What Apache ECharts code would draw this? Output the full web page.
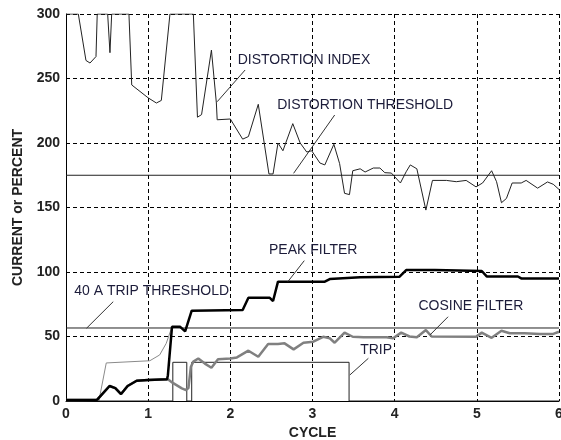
<!DOCTYPE html>
<html><head><meta charset="utf-8">
<script src="https://cdn.jsdelivr.net/npm/echarts@6/dist/echarts.min.js"></script>
<style>html,body{margin:0;padding:0;background:#fff;overflow:hidden}#c{width:561px;height:440px}</style>
</head><body><div id="c"></div>
<script>
// ---- data (cycle, value) ----
const xTicks = [0, 1, 2, 3, 4, 5, 6];
const yTicks = [0, 50, 100, 150, 200, 250, 300];
const distortionThreshold = 175;
const tripThreshold = 56.6;

const distortionIndex = [
  [0,300],[0.15,300],[0.243,264],[0.292,262],[0.365,267],[0.38,300],
  [0.507,300],[0.535,270],[0.556,300],
  [0.766,300],[0.80,245],[1.0,235],[1.10,231],[1.16,233],[1.265,300],
  [1.55,300],[1.60,220],[1.65,222],[1.77,272],[1.83,231],[1.84,218],[2.0,218.6],
  [2.15,203],[2.22,205],[2.34,230],[2.47,176],[2.52,176],[2.58,200],[2.64,194],
  [2.76,215],[2.85,200],[2.93,193],[2.99,194],[3.09,184.5],[3.15,183],[3.26,199],
  [3.33,184],[3.39,161],[3.45,160],[3.49,178.5],[3.58,180],[3.64,177.5],[3.74,180.6],
  [3.82,180.6],[3.88,177],[3.96,176.7],[4.07,169],[4.14,177.7],[4.19,183],[4.27,180],
  [4.38,148],[4.46,171],[4.63,171],[4.75,170],[4.87,171],[4.99,166],[5.07,169],
  [5.18,178.5],[5.24,170],[5.30,153.7],[5.36,157],[5.43,169],[5.54,169],[5.60,171],
  [5.74,165],[5.86,169.8],[5.93,168],[6.0,164]
];

const peakFilter = [
  [0,0.8],[0.38,1],[0.53,11.6],[0.60,10],[0.67,5.4],[0.75,11.6],[0.86,15.7],[1.0,16.3],
  [1.23,16.8],[1.24,20],[1.29,57.5],[1.39,57.5],[1.45,54],[1.47,52.5],[1.53,70],
  [2.15,70.5],[2.22,80],[2.48,80],[2.52,77.5],[2.58,92.5],[3.15,92.5],[3.21,94.5],
  [3.58,96],[4.06,96.4],[4.14,101.5],[4.49,101.5],[4.51,100.8],[5.06,100.8],[5.12,96.6],
  [5.50,96.5],[5.54,95],[6.0,95]
];

const cosineFilter = [
  [0,0.8],[0.38,1],[0.53,11.6],[0.60,10],[0.67,5.4],[0.75,11.6],[0.86,15.7],[1.0,16.3],
  [1.24,16.8],[1.30,14],[1.41,9.8],[1.46,8.5],[1.49,10],[1.52,26.6],[1.55,30.5],[1.61,33],
  [1.69,29],[1.77,25.8],[1.85,32.3],[2.0,33],[2.08,33.8],[2.22,39],[2.34,34.3],[2.46,44.2],
  [2.58,44.2],[2.66,44.7],[2.77,40],[2.89,45.2],[3.01,46],[3.13,49.8],[3.21,48.6],
  [3.27,45.2],[3.39,53],[3.49,49.8],[3.62,49.4],[3.90,49.4],[3.98,48.6],[4.08,53],
  [4.18,50],[4.27,49.4],[4.38,55],[4.45,50],[4.99,49.8],[5.06,53],[5.18,49],[5.30,54.5],
  [5.40,52.5],[5.58,52.5],[5.77,52],[5.93,52],[6.0,53.7]
];

const rawCurrent = [
  [0.40,0],[0.49,29.5],[1.02,31.2],[1.14,35.7],[1.22,44.7],[1.29,57.5]
];

const trip = [
  [0,0],[1.30,0],[1.30,30],[1.47,30],[1.47,0],[1.53,0],[1.53,30],[3.445,30],[3.445,0],[6,0]
];

// ---- annotations (text anchor and leader line, in data coordinates) ----
const annotations = [
  {text:'DISTORTION INDEX', at:[2.09,264.3], from:[2.18,256.6], to:[1.84,232]},
  {text:'DISTORTION THRESHOLD', at:[2.57,229.5], from:[3.27,221.7], to:[2.77,176.5]},
  {text:'PEAK FILTER', at:[2.47,117], from:[2.90,108.8], to:[2.70,92.5]},
  {text:'40 A TRIP THRESHOLD', at:[0.10,85.3], from:[0.575,77], to:[0.25,56.4]},
  {text:'COSINE FILTER', at:[4.29,73.6], from:[4.65,65.3], to:[4.43,51.2]},
  {text:'TRIP', at:[3.58,39.5], from:[3.68,33.1], to:[3.455,20.2]}
];

const FONT = '"Liberation Sans", Arial, sans-serif';
const chart = echarts.init(document.getElementById('c'));

function lineSeries(data, color, width, z) {
  return {type:'line', data, showSymbol:false, symbol:'none', z,
    lineStyle:{color, width}, animation:false, clip:true};
}

const option = {
  animation:false,
  backgroundColor:'#fff',
  grid:{left:66, right:2, top:14, bottom:39, containLabel:false, outerBoundsMode:'none'},
  xAxis:{
    type:'value', min:xTicks[0], max:xTicks[xTicks.length-1], interval:1,
    name:'CYCLE', nameLocation:'middle', nameGap:25,
    nameTextStyle:{fontFamily:FONT, fontWeight:'bold', fontSize:14, color:'#222'},
    axisLine:{show:true, onZero:false, lineStyle:{color:'#000', width:1}},
    axisTick:{show:false},
    axisLabel:{fontFamily:FONT, fontWeight:'bold', fontSize:14, color:'#222', margin:6},
    splitLine:{show:true, lineStyle:{color:'#000', type:[4,3], width:1}}
  },
  yAxis:{
    type:'value', min:yTicks[0], max:yTicks[yTicks.length-1], interval:50,
    name:'CURRENT or PERCENT', nameLocation:'middle', nameGap:41,
    nameTextStyle:{fontFamily:FONT, fontWeight:'bold', fontSize:14, color:'#222'},
    axisLine:{show:true, lineStyle:{color:'#000', width:1}},
    axisTick:{show:false},
    axisLabel:{fontFamily:FONT, fontWeight:'bold', fontSize:14, color:'#222', margin:6},
    splitLine:{show:true, lineStyle:{color:'#000', type:[4,3], width:1}}
  },
  series:[
    lineSeries([[0,distortionThreshold],[6,distortionThreshold]], '#222', 1, 2),
    lineSeries([[0,tripThreshold],[6,tripThreshold]], '#222', 1, 2),
    lineSeries(rawCurrent, '#8a8a8a', 1, 3),
    lineSeries(trip, '#222', 1, 4),
    lineSeries(cosineFilter, '#808080', 2.5, 5),
    lineSeries(peakFilter, '#000', 2.5, 6),
    lineSeries(distortionIndex, '#222', 1, 7)
  ]
};
chart.setOption(option);

const g = [];
annotations.forEach(a => {
  const p = chart.convertToPixel({gridIndex:0}, a.at);
  const p1 = chart.convertToPixel({gridIndex:0}, a.from);
  const p2 = chart.convertToPixel({gridIndex:0}, a.to);
  g.push({type:'text', x:p[0], y:p[1], z:10,
    style:{text:a.text, font:'14px ' + FONT, fill:'#1c1c3a', verticalAlign:'middle', align:'left'}});
  g.push({type:'line', z:10, shape:{x1:p1[0], y1:p1[1], x2:p2[0], y2:p2[1]},
    style:{stroke:'#333', lineWidth:1}});
});
chart.setOption({graphic:g});
</script>
</body></html>
